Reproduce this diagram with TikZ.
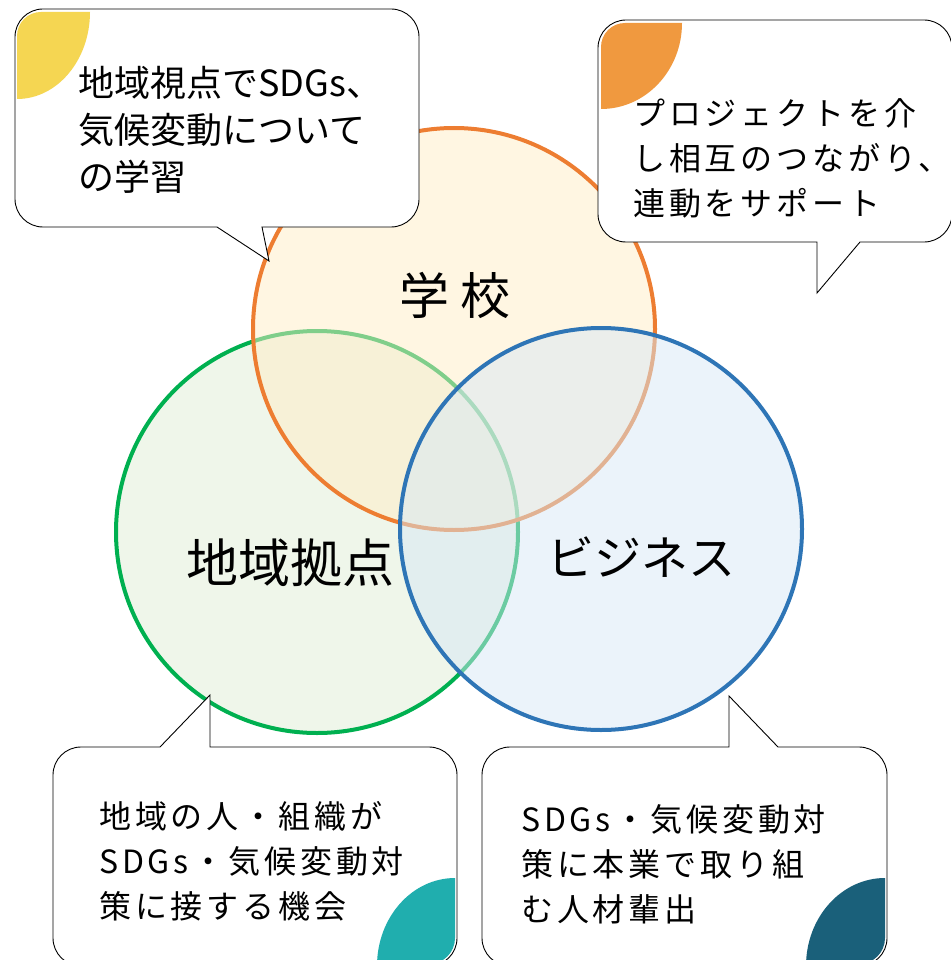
\documentclass[tikz,border=0pt]{standalone}
\usepackage{fontspec}
\setmainfont{Noto Sans CJK JP}
\newfontfamily\notefont{Noto Sans CJK JP}[LetterSpace=12]
\definecolor{schoolLine}{RGB}{237,125,49}
\definecolor{schoolFill}{RGB}{255,237,197}
\definecolor{localLine}{RGB}{0,176,80}
\definecolor{localFill}{RGB}{223,237,213}
\definecolor{bizLine}{RGB}{46,117,182}
\definecolor{bizFill}{RGB}{215,231,245}
\definecolor{tabYellow}{RGB}{245,214,82}
\definecolor{tabOrange}{RGB}{240,153,63}
\definecolor{tabTeal}{RGB}{32,174,174}
\definecolor{tabNavy}{RGB}{26,96,122}

\begin{document}
\begin{tikzpicture}[
  x=1pt, y=-1pt,
  ring/.style={circle, line width=4pt, fill opacity=0.5, draw opacity=1,
               inner sep=0pt, minimum size=402pt},
  tag/.style={font=\fontsize{50}{50}\selectfont, inner sep=0pt},
  bubble/.style={draw=black, line width=0.9pt, fill=white},
  note/.style={font=\notefont\fontsize{32}{45}\selectfont, align=left,
               inner sep=0pt, anchor=west},
]
\useasboundingbox (0,0) rectangle (950,960);

%% Circles
\node[ring, draw=localLine, fill=localFill]   (local)  at (317,532) {};
\node[ring, draw=schoolLine, fill=schoolFill] (school) at (454,329) {};
\node[ring, draw=bizLine, fill=bizFill]       (biz)    at (601,529) {};

\node[tag] (schoolTag) at (455,295) {学 校};
\node[tag, font=\fontsize{52}{52}\selectfont] (localTag) at (290,563) {地域拠点};
\node[tag, font=\fontsize{47}{47}\selectfont] (bizTag)   at (641,557) {ビジネス};

%% Callouts
\draw[bubble] (262,227) -- (269,261) -- (217,227) -- (43,227)
  arc[start angle=90, end angle=180, radius=28] -- (15,37)
  arc[start angle=180, end angle=270, radius=28] -- (391,9)
  arc[start angle=270, end angle=360, radius=28] -- (419,199)
  arc[start angle=0, end angle=90, radius=28] -- cycle;
\fill[tabYellow] (90,12) arc[start angle=0, end angle=90, x radius=73, y radius=87]
  -- (17,36) arc[start angle=180, end angle=270, radius=24] -- cycle;

\draw[bubble] (860,242) -- (817,293) -- (817,242) -- (626,242)
  arc[start angle=90, end angle=180, radius=28] -- (598,48)
  arc[start angle=180, end angle=270, radius=28] -- (924,20)
  arc[start angle=270, end angle=360, radius=28] -- (952,214)
  arc[start angle=0, end angle=90, radius=28] -- cycle;
\fill[tabOrange] (682,23) arc[start angle=0, end angle=90, x radius=81, y radius=86]
  -- (601,47) arc[start angle=180, end angle=270, radius=24] -- cycle;

\draw[bubble] (160,747) -- (210,695) -- (210,747) -- (429,747)
  arc[start angle=270, end angle=360, radius=28] -- (457,938)
  arc[start angle=0, end angle=90, radius=28] -- (81,966)
  arc[start angle=90, end angle=180, radius=28] -- (53,775)
  arc[start angle=180, end angle=270, radius=28] -- cycle;
\fill[tabTeal] (455,878) arc[start angle=270, end angle=180, x radius=78, y radius=88]
  -- (429,964) arc[start angle=90, end angle=0, radius=26] -- cycle;

\draw[bubble] (729,747) -- (729,696) -- (778,747) -- (859,747)
  arc[start angle=270, end angle=360, radius=28] -- (887,938)
  arc[start angle=0, end angle=90, radius=28] -- (510,966)
  arc[start angle=90, end angle=180, radius=28] -- (482,775)
  arc[start angle=180, end angle=270, radius=28] -- cycle;
\fill[tabNavy] (885,878) arc[start angle=270, end angle=180, x radius=79, y radius=88]
  -- (859,964) arc[start angle=90, end angle=0, radius=26] -- cycle;

%% Texts
\node[note, font=\fontsize{36}{47}\selectfont] (schoolNote) at (78,130)
  {地域視点でSDGs、\\気候変動について\\の学習};
\node[note] (linkNote)  at (633,158) {プロジェクトを介\\し相互のつながり、\\連動をサポート};
\node[note] (localNote) at (99,861)  {地域の人・組織が\\SDGs・気候変動対\\策に接する機会};
\node[note] (bizNote)   at (521,864) {SDGs・気候変動対\\策に本業で取り組\\む人材輩出};
\end{tikzpicture}
\end{document}
